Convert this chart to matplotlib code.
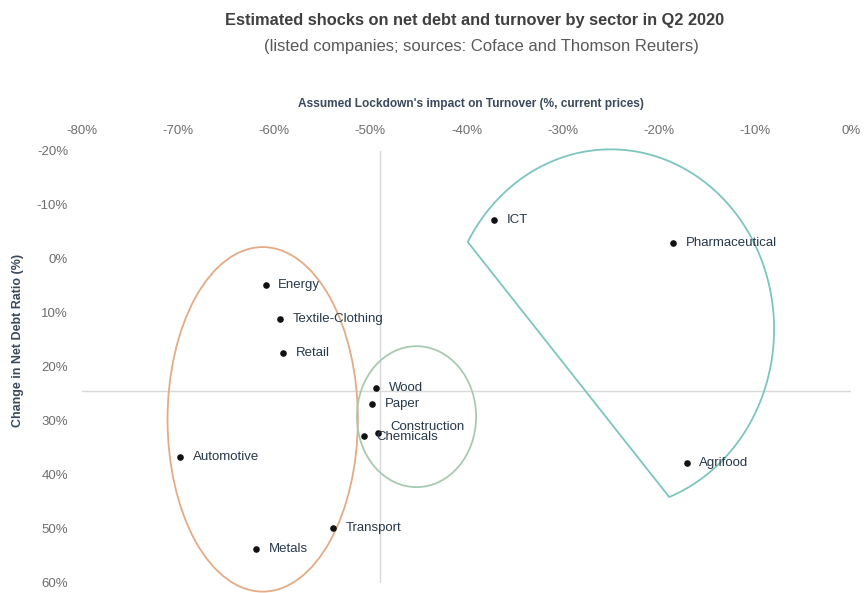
import numpy as np
import matplotlib
matplotlib.use("Agg")
import matplotlib.pyplot as plt
from matplotlib.patches import Ellipse, Polygon
from matplotlib.ticker import FuncFormatter

plt.rcParams["font.family"] = ["Liberation Sans Narrow", "Liberation Sans", "DejaVu Sans"]

# données
secteurs = ["Energy", "Textile-Clothing", "Retail", "Wood", "Paper", "Construction",
            "Chemicals", "Automotive", "Transport", "Metals", "ICT",
            "Pharmaceutical", "Agrifood"]
impact_ca = [-60.9, -59.4, -59.1, -49.4, -49.8, -49.2, -50.7, -69.8, -53.9, -61.9,
             -37.1, -18.5, -17.1]
var_dette = [4.9, 11.1, 17.4, 23.9, 26.9, 32.2, 32.8, 36.6, 49.9, 53.7,
             -7.3, -2.9, 37.7]
x_ticks = [-80, -70, -60, -50, -40, -30, -20, -10, 0]
y_ticks = [-20, -10, 0, 10, 20, 30, 40, 50, 60]

# décalage des étiquettes (points)
decalages = {"Construction": (9, 4), "Chemicals": (9, -1)}

GRIS_TEXTE = "#404040"
GRIS_TICK = "#6E6E6E"
BLEU_LABEL = "#26384A"

fig = plt.figure(figsize=(8.65, 5.93), dpi=100)
ax = fig.add_axes([0.0948, 0.0169, 0.889, 0.7285])

ax.set_xlim(-80, 0)
ax.set_ylim(60, -20)

# lignes de moyenne
ax.axvline(np.mean(impact_ca), color="#D9D9D9", linewidth=1, zorder=1)
ax.axhline(np.mean(var_dette), color="#D9D9D9", linewidth=1, zorder=1)

# regroupements
ax.add_patch(Ellipse((-61.2, 29.7), 19.8, 63.8, fill=False, edgecolor="#E3AB86",
                     linewidth=1.3, clip_on=False, zorder=2))
ax.add_patch(Ellipse((-45.2, 29.2), 12.4, 26.1, fill=False, edgecolor="#A9C9B3",
                     linewidth=1.3, clip_on=False, zorder=2))
t = np.radians(np.linspace(151, -69, 200))
arc_x = -25.0 + 17.0 * np.cos(t)
arc_y = 13.0 - 33.3 * np.sin(t)
ax.add_patch(Polygon(np.column_stack([arc_x, arc_y]), closed=True, fill=False,
                     edgecolor="#7CC6BE", linewidth=1.3, clip_on=False, zorder=2))

ax.scatter(impact_ca, var_dette, s=14, color="#111111", zorder=4)
for nom, x, y in zip(secteurs, impact_ca, var_dette):
    ax.annotate(nom, (x, y), xytext=decalages.get(nom, (9, 0)),
                textcoords="offset points", ha="left", va="center",
                fontsize=9.5, color=BLEU_LABEL, zorder=5)

ax.xaxis.tick_top()
ax.set_xticks(x_ticks)
ax.set_yticks(y_ticks)
fmt = FuncFormatter(lambda v, _: f"{v:.0f}%")
ax.xaxis.set_major_formatter(fmt)
ax.yaxis.set_major_formatter(fmt)
ax.tick_params(axis="both", length=0, labelsize=9.5, labelcolor=GRIS_TICK)
ax.tick_params(axis="x", pad=10)
ax.tick_params(axis="y", pad=10)
for s in ax.spines.values():
    s.set_visible(False)

fig.text(0.549, 0.966, "Estimated shocks on net debt and turnover by sector in Q2 2020",
         ha="center", va="center", fontsize=11.8, fontweight="bold", color=GRIS_TEXTE)
fig.text(0.556, 0.921, "(listed companies; sources: Coface and Thomson Reuters)",
         ha="center", va="center", fontsize=12, color="#595959")
fig.text(0.545, 0.8246, "Assumed Lockdown's impact on Turnover (%, current prices)",
         ha="center", va="center", fontsize=8.6, fontweight="bold", color="#3A4A5C")
fig.text(0.021, 0.4266, "Change in Net Debt Ratio (%)", rotation=90,
         ha="center", va="center", fontsize=9, fontweight="bold", color="#3A4A5C")

fig.savefig("out.png", dpi=100)
